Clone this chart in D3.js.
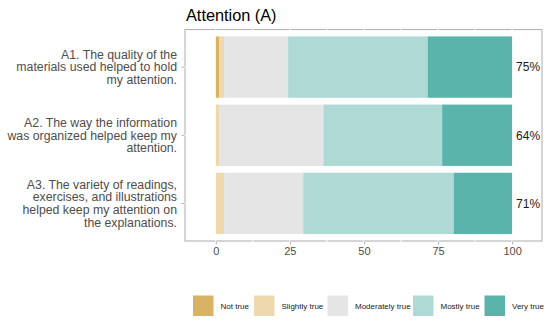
<!DOCTYPE html>
<html>
<head>
<meta charset="utf-8">
<script src="https://cdn.jsdelivr.net/npm/d3@7"></script>
<style>
body { margin: 0; background: #fff; }
svg { font-family: "Liberation Sans", Arial, sans-serif; }
</style>
</head>
<body>
<div id="chart-area"></div>
<script>
// data
var questions = [
    "A1. The quality of the|materials used helped to hold|my attention.",
    "A2. The way the information|was organized helped keep my|attention.",
    "A3. The variety of readings,|exercises, and illustrations|helped keep my attention on|the explanations."
];
var levels = ["Not true", "Slightly true", "Moderately true", "Mostly true", "Very true"];
var notTrue = [1.1, 0, 0];
var slightlyTrue = [1.7, 1.1, 2.8];
var moderatelyTrue = [21.6, 35.2, 26.7];
var mostlyTrue = [47.1, 40.1, 50.8];
var veryTrue = [28.5, 23.6, 19.7];
var pctLabels = ["75%", "64%", "71%"];
var xTicks = [0, 25, 50, 75, 100];
var colors = ["#d8b365", "#eed9af", "#e5e5e5", "#afd9d5", "#5ab4ac"];

var series = [notTrue, slightlyTrue, moderatelyTrue, mostlyTrue, veryTrue];

var width = 550, height = 322;
var panel = { left: 185, right: 542, top: 29.5, bottom: 241 };

var svg = d3.select("#chart-area")
    .append("svg")
    .attr("width", width)
    .attr("height", height);

var x = d3.scaleLinear().domain([-10.4, 110.1]).range([panel.left, panel.right]);
var y = d3.scaleBand().domain(d3.range(questions.length))
    .range([panel.top + 3.5, panel.bottom - 3.5]).paddingInner(0.1).paddingOuter(0.05);

// title
svg.append("text")
    .attr("x", 186)
    .attr("y", 21)
    .attr("font-size", 16.3)
    .attr("fill", "#000")
    .text("Attention (A)");

// stacked segments
var rows = questions.map((q, i) => {
    var acc = 0;
    return series.map((s, j) => {
        var d = { row: i, level: j, x0: acc, x1: acc + s[i] };
        acc += s[i];
        return d;
    });
});

svg.append("g").selectAll("rect")
    .data(rows.flat().filter(d => d.x1 > d.x0))
    .enter().append("rect")
    .attr("x", d => x(d.x0))
    .attr("y", d => y(d.row))
    .attr("width", d => x(d.x1) - x(d.x0))
    .attr("height", y.bandwidth())
    .attr("fill", d => colors[d.level]);

// panel border
svg.append("rect")
    .attr("x", panel.left)
    .attr("y", panel.top)
    .attr("width", panel.right - panel.left)
    .attr("height", panel.bottom - panel.top)
    .attr("fill", "none")
    .attr("stroke", "#b3b3b3")
    .attr("stroke-width", 1.1);

// white grid lines (only visible where they cross the border)
var grid = svg.append("g").attr("stroke", "#fff").attr("stroke-width", 1);
d3.range(-12.5, 112.5, 12.5).filter(v => x(v) > panel.left + 1 && x(v) < panel.right - 1).forEach(v => {
    grid.append("line")
        .attr("x1", x(v)).attr("x2", x(v))
        .attr("y1", panel.top - 1).attr("y2", panel.top + 1);
    grid.append("line")
        .attr("x1", x(v)).attr("x2", x(v))
        .attr("y1", panel.bottom - 1).attr("y2", panel.bottom + 1);
});
questions.forEach((q, i) => {
    var cy = y(i) + y.bandwidth() / 2;
    grid.append("line")
        .attr("x1", panel.left - 1).attr("x2", panel.left + 1)
        .attr("y1", cy).attr("y2", cy);
});

// x axis
var xAxis = svg.append("g")
    .attr("transform", "translate(0," + (panel.bottom + 0.5) + ")")
    .call(d3.axisBottom(x).tickValues(xTicks).tickSize(3).tickPadding(3));
xAxis.select(".domain").remove();
xAxis.selectAll(".tick line").attr("stroke", "#b3b3b3");
xAxis.selectAll("text").attr("fill", "#4d4d4d").attr("font-size", 11)
    .attr("font-family", "Liberation Sans, Arial, sans-serif");

// y ticks
svg.append("g").selectAll("line")
    .data(questions)
    .enter().append("line")
    .attr("x1", panel.left - 3.5).attr("x2", panel.left - 0.5)
    .attr("y1", (d, i) => y(i) + y.bandwidth() / 2)
    .attr("y2", (d, i) => y(i) + y.bandwidth() / 2)
    .attr("stroke", "#b3b3b3");

// y labels
var lineH = 12.8;
questions.forEach((q, i) => {
    var lines = q.split("|");
    var cy = y(i) + y.bandwidth() / 2;
    var t = svg.append("text")
        .attr("text-anchor", "end")
        .attr("font-size", 12.3)
        .attr("fill", "#4d4d4d");
    lines.forEach((l, k) => {
        t.append("tspan")
            .attr("x", 177)
            .attr("y", cy + (k - (lines.length - 1) / 2) * lineH + 4.3)
            .text(l);
    });
});

// percentage labels
svg.append("g").selectAll("text")
    .data(pctLabels)
    .enter().append("text")
    .attr("x", x(100) + 4)
    .attr("y", (d, i) => y(i) + y.bandwidth() / 2 + 4.3)
    .attr("font-size", 12)
    .attr("fill", "#1a1a1a")
    .text(d => d);

// legend
var legendX = [193, 254, 327.5, 413, 484.5];
var legend = svg.append("g");
levels.forEach((lv, i) => {
    legend.append("rect")
        .attr("x", legendX[i])
        .attr("y", 295.5)
        .attr("width", 20.5)
        .attr("height", 20.5)
        .attr("fill", colors[i]);
    legend.append("text")
        .attr("x", legendX[i] + 27.5)
        .attr("y", 308.5)
        .attr("font-size", 8)
        .attr("fill", "#1a1a1a")
        .text(lv);
});
</script>
</body>
</html>
